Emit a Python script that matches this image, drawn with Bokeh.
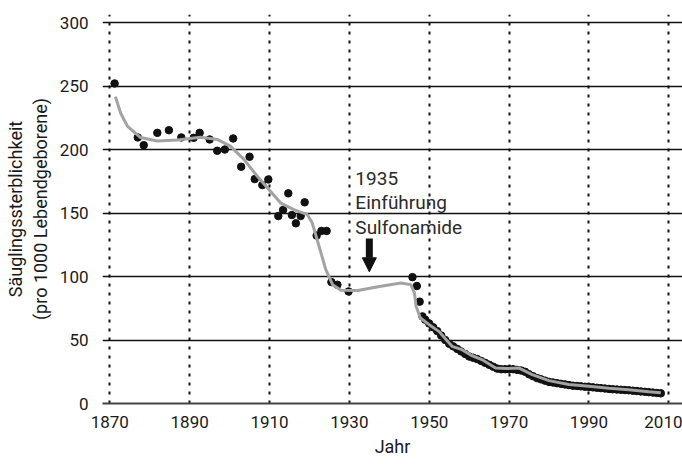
from bokeh.plotting import figure
from bokeh.models import FixedTicker, Range1d, Label, Arrow, NormalHead
from bokeh.embed import file_html
from bokeh.resources import INLINE

# ---- data ----
dot_years = [1871.2, 1877.0, 1878.5, 1881.9, 1884.8, 1887.9, 1891.0, 1892.5, 1895.0, 1896.9,
             1898.8, 1900.9, 1902.9, 1905.0, 1906.3, 1908.2, 1909.7, 1912.2, 1913.4, 1914.7,
             1915.6, 1916.6, 1917.8, 1918.8, 1921.8, 1923.0, 1924.3, 1925.5, 1927.0, 1929.8,
             1945.8, 1946.9, 1947.6, 1948.3]
dot_vals = [252, 209.5, 203.4, 213.1, 215.2, 209.5, 209.2, 213.1, 207.9, 199,
            200, 208.7, 186.4, 194.3, 176.7, 172, 176.4, 147.6, 152.4, 165.5,
            148.4, 141.9, 147.6, 158.4, 132.2, 135.9, 135.9, 95.6, 93.5, 88.2,
            99.5, 92.5, 80.2, 68.6]

annual_years = list(range(1949, 2009))
annual_vals = [66, 63, 60, 57, 53.5, 50, 47, 45, 43, 41,
               39, 37, 36, 35, 33.5, 32, 30.5, 29, 27.5, 27,
               27, 27, 27, 26.5, 26, 25, 23, 21.5, 20, 19,
               18, 17, 16.5, 16, 15.5, 15, 14.5, 14, 13.8, 13.5,
               13.2, 13, 12.7, 12.4, 12.1, 11.8, 11.5, 11.2, 11, 10.8,
               10.6, 10.4, 10.1, 9.8, 9.5, 9.2, 8.9, 8.6, 8.3, 8.0]

trend_years = [1871.4, 1872.7, 1874.4, 1877.7, 1881.9, 1886.9, 1892.7, 1897.0, 1900.2, 1903.6,
               1906.9, 1909.5, 1912.8, 1916.1, 1919.5, 1920.7, 1922.4, 1924.1, 1925.8, 1927.9,
               1932.1, 1937.9, 1942.9, 1945.4, 1946.3, 1946.7, 1947.8, 1950.0, 1952.4, 1955.7,
               1958.2, 1960.5, 1963.2, 1966.6, 1969.5, 1972.4, 1975.8, 1980.0, 1985.0, 1990.0,
               1995.0, 2000.0, 2005.0, 2008.0]
trend_vals = [241.6, 228.7, 218.5, 209.4, 206.7, 207.5, 209.6, 207.8, 202.7, 192.2,
              179.1, 169.7, 157.8, 152.6, 148.7, 142.1, 123.8, 105.4, 93.6, 89.2,
              88.9, 92.3, 94.9, 93.6, 87.1, 76.5, 67.3, 62.0, 56.8, 45.0,
              42.4, 38.0, 34.6, 28.0, 27.5, 28.0, 22.8, 18.0, 15.0, 13.5,
              12.0, 10.8, 9.3, 8.5]

x_ticks = [1870, 1890, 1910, 1930, 1950, 1970, 1990, 2010]
y_ticks = [0, 50, 100, 150, 200, 250, 300]

ann_text = "1935\nEinführung\nSulfonamide"
ann_year = 1935
ann_arrow_top = 130
ann_arrow_tip = 103.7

FONT = "Roboto"

p = figure(width=682, height=463, output_backend="svg", toolbar_location=None,
           x_range=Range1d(1868.17, 2013.43), y_range=Range1d(0, 306.3),
           min_border_left=102, min_border_right=0, min_border_top=14, min_border_bottom=60)
p.outline_line_color = None
p.background_fill_color = "white"

# grids
p.xgrid.ticker = FixedTicker(ticks=x_ticks)
p.ygrid.ticker = FixedTicker(ticks=y_ticks)
p.xgrid.grid_line_color = "#111111"
p.xgrid.grid_line_width = 2
p.xgrid.grid_line_dash = "3 6"
p.ygrid.grid_line_color = "#111111"
p.ygrid.grid_line_width = 1.3

# axes
p.xaxis.ticker = FixedTicker(ticks=x_ticks)
p.yaxis.ticker = FixedTicker(ticks=y_ticks)
for ax in (p.xaxis[0], p.yaxis[0]):
    ax.major_tick_line_color = None
    ax.minor_tick_line_color = None
    ax.major_label_text_font = FONT
    ax.major_label_text_font_size = "17px"
    ax.major_label_text_color = "#1a1a1a"
    ax.axis_label_text_font = FONT
    ax.axis_label_text_font_size = "18px"
    ax.axis_label_text_font_style = "normal"
    ax.axis_label_text_color = "#1a1a1a"
p.yaxis.axis_line_color = None
p.xaxis.axis_line_color = "#444444"
p.xaxis.axis_line_width = 2
p.xaxis.major_label_standoff = 6
p.yaxis.major_label_standoff = 8
p.xaxis.axis_label = "Jahr"
p.yaxis.axis_label = "Säuglingssterblichkeit\n(pro 1000 Lebendgeborene)"
p.xaxis.axis_label_standoff = 5
p.yaxis.axis_label_standoff = 6

# data
p.scatter(dot_years, dot_vals, size=7.5, color="#111111")
p.scatter(annual_years, annual_vals, size=7.5, color="#111111")
p.line(trend_years, trend_vals, line_color="#a3a3a3", line_width=3)

# annotation
p.add_layout(Label(x=1931.5, y=186, text=ann_text, text_font=FONT, text_font_size="19px",
                   text_color="#2a2a2a", text_baseline="top", text_line_height=1.05))
p.add_layout(Arrow(end=NormalHead(size=14, fill_color="#111111", line_color="#111111"),
                   x_start=ann_year, y_start=ann_arrow_top, x_end=ann_year, y_end=ann_arrow_tip,
                   line_width=7, line_color="#111111"))

open("out.html", "w").write(file_html(p, INLINE))
